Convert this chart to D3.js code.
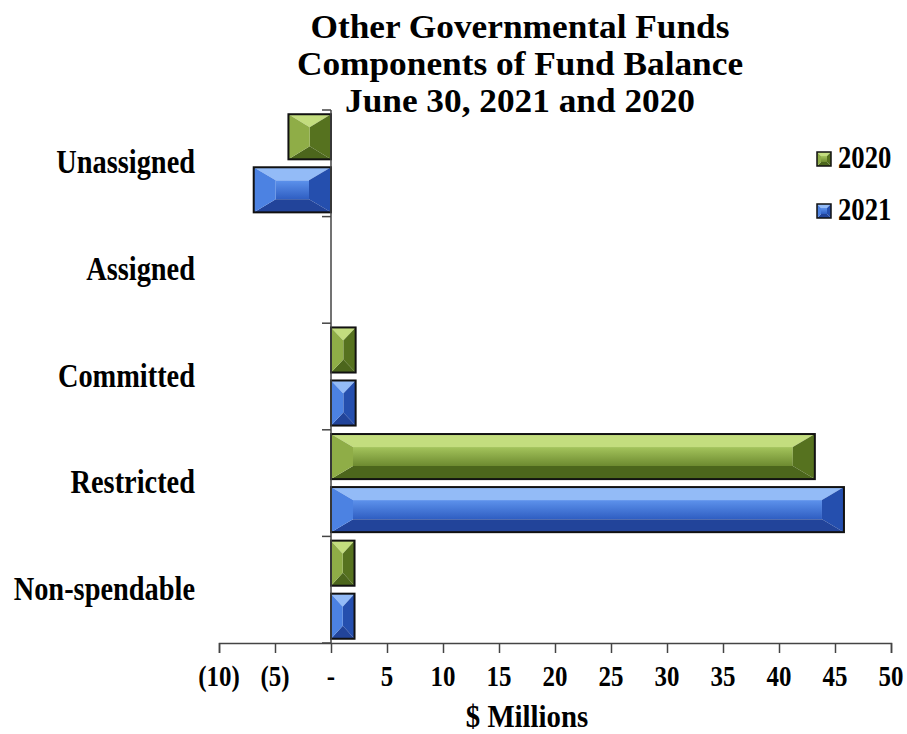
<!DOCTYPE html>
<html>
<head>
<meta charset="utf-8">
<script src="https://cdn.jsdelivr.net/npm/d3@7"></script>
<style>
  body { margin: 0; background: #fff; }
  text { font-family: "Liberation Serif", "Times New Roman", serif; font-weight: bold; fill: #000; }
</style>
</head>
<body>
<div id="chart"></div>
<script>
// data ($ millions)
const categories = ["Unassigned", "Assigned", "Committed", "Restricted", "Non-spendable"];
const years = ["2020", "2021"];
const values2020 = [-3.8, 0, 2.2, 43.2, 2.1];
const values2021 = [-6.9, 0, 2.2, 45.8, 2.1];
const xTicks = [-10, -5, 0, 5, 10, 15, 20, 25, 30, 35, 40, 45, 50];
const titleLines = ["Other Governmental  Funds", "Components of Fund Balance", "June 30, 2021 and 2020"];

const W = 907, H = 734;
const plot = { left: 219, right: 891, top: 110, bottom: 643 };

const svg = d3.select("#chart").append("svg")
    .attr("width", W)
    .attr("height", H);

// colours for each series: face gradient + bevel facets
const palette = {
    "2020": { faceTop: "#a4c45c", faceBot: "#6d8a30", top: "#c3dd7e", left: "#8fad47", right: "#56721f", bottom: "#4c661c" },
    "2021": { faceTop: "#5d92ec", faceBot: "#2f5ec2", top: "#93bbf7", left: "#4c82e2", right: "#254fae", bottom: "#22449a" }
};

const defs = svg.append("defs");
years.forEach(y => {
    const g = defs.append("linearGradient")
        .attr("id", "face" + y)
        .attr("x1", 0).attr("y1", 0).attr("x2", 0).attr("y2", 1);
    g.append("stop").attr("offset", "0%").attr("stop-color", palette[y].faceTop);
    g.append("stop").attr("offset", "100%").attr("stop-color", palette[y].faceBot);
});

// scales
const x = d3.scaleLinear().domain([-10, 50]).range([plot.left, plot.right]);
const y = d3.scaleBand().domain(categories).range([plot.top, plot.bottom]).padding(0);
const ySub = d3.scaleBand().domain(years).range([0, y.bandwidth()])
    .paddingInner(0.15).paddingOuter(0.08);

// bold text helper, sx squeezes/stretches it sideways
function label(parent, tx, ty, str, size, anchor, sx) {
    return parent.append("text")
        .attr("transform", `translate(${tx},${ty}) scale(${sx || 1},1)`)
        .attr("text-anchor", anchor || "middle")
        .style("font-size", size + "px")
        .text(str);
}

// beveled box like the excel bars
function bevelBox(parent, x0, y0, w, h, yr, maxDx, maxDy) {
    const p = palette[yr];
    const x1 = x0 + w, y1 = y0 + h;
    const dx = Math.min(w / 2, maxDx), dy = Math.min(h / 2, maxDy);
    const g = parent.append("g");
    const poly = (pts, fill) => g.append("polygon")
        .attr("points", pts.map(d => d.join(",")).join(" "))
        .attr("fill", fill);
    g.append("rect").attr("x", x0 + dx).attr("y", y0 + dy)
        .attr("width", Math.max(0, w - 2 * dx)).attr("height", Math.max(0, h - 2 * dy))
        .attr("fill", `url(#face${yr})`);
    poly([[x0, y0], [x1, y0], [x1 - dx, y0 + dy], [x0 + dx, y0 + dy]], p.top);
    poly([[x1, y0], [x1, y1], [x1 - dx, y1 - dy], [x1 - dx, y0 + dy]], p.right);
    poly([[x1, y1], [x0, y1], [x0 + dx, y1 - dy], [x1 - dx, y1 - dy]], p.bottom);
    poly([[x0, y1], [x0, y0], [x0 + dx, y0 + dy], [x0 + dx, y1 - dy]], p.left);
    g.append("rect").attr("class", "edge").attr("x", x0).attr("y", y0).attr("width", w).attr("height", h)
        .attr("fill", "none").attr("stroke", "#111").attr("stroke-width", 2);
    return g;
}

// bars
const rows = [];
categories.forEach((c, i) => {
    rows.push({ cat: c, year: "2020", value: values2020[i] });
    rows.push({ cat: c, year: "2021", value: values2021[i] });
});

const barLayer = svg.append("g");
rows.filter(d => d.value !== 0).forEach(d => {
    const xa = x(Math.min(0, d.value)), xb = x(Math.max(0, d.value));
    bevelBox(barLayer, xa, y(d.cat) + ySub(d.year), xb - xa, ySub.bandwidth(), d.year, 22, 13);
});

// x axis
const xAxis = svg.append("g")
    .attr("transform", `translate(0,${plot.bottom})`)
    .call(d3.axisBottom(x).tickValues(xTicks).tickSize(10).tickSizeOuter(10).tickFormat(""));
xAxis.selectAll("path, line").attr("stroke", "#444").attr("stroke-width", 1.5);

xTicks.forEach(t => {
    const s = t < 0 ? `(${-t})` : (t === 0 ? "-" : String(t));
    label(svg, x(t), 686, s, 29, "middle", 0.86);
});

// y axis at zero with ticks on band edges
const yAxisG = svg.append("g");
yAxisG.append("line")
    .attr("x1", x(0)).attr("x2", x(0))
    .attr("y1", plot.top).attr("y2", plot.bottom)
    .attr("stroke", "#444").attr("stroke-width", 1.5);
const edges = categories.map(c => y(c)).concat([plot.bottom]);
yAxisG.selectAll(".ytick").data(edges).enter().append("line")
    .attr("x1", x(0) - 9).attr("x2", x(0))
    .attr("y1", d => d).attr("y2", d => d)
    .attr("stroke", "#444").attr("stroke-width", 1.5);

// category labels
categories.forEach(c => {
    label(svg, 195, y(c) + y.bandwidth() / 2 + 10, c, 33, "end", 0.86);
});

// title
titleLines.forEach((t, i) => {
    label(svg, 520, 38 + i * 37, t, 33, "middle", 1.07);
});

// axis title
label(svg, 527, 727, "$ Millions", 32, "middle", 0.9);

// legend
years.forEach((yr, i) => {
    const ly = 152 + i * 52;
    bevelBox(svg, 817, ly, 14, 14, yr, 4, 4).select(".edge").attr("stroke-width", 1.5);
    label(svg, 838, ly + 16, yr, 31, "start", 0.86);
});
</script>
</body>
</html>
